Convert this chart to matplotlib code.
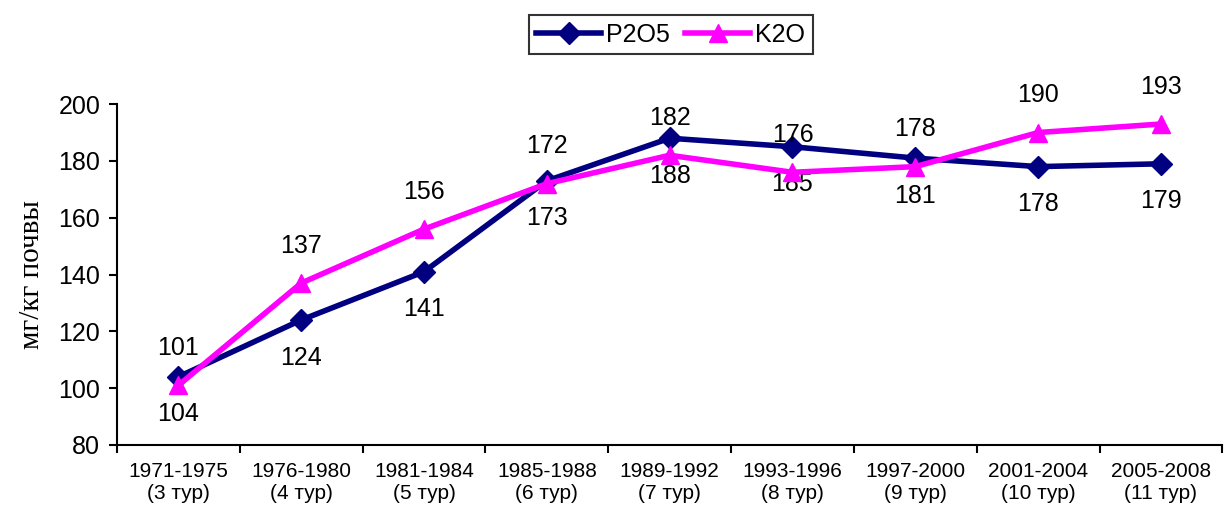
import numpy as np
import matplotlib
matplotlib.use("Agg")
import matplotlib.pyplot as plt

# data
periods = ["1971-1975\n(3 тур)", "1976-1980\n(4 тур)", "1981-1984\n(5 тур)",
           "1985-1988\n(6 тур)", "1989-1992\n(7 тур)", "1993-1996\n(8 тур)",
           "1997-2000\n(9 тур)", "2001-2004\n(10 тур)", "2005-2008\n(11 тур)"]
p2o5 = [104, 124, 141, 173, 188, 185, 181, 178, 179]
k2o = [101, 137, 156, 172, 182, 176, 178, 190, 193]

plt.rcParams['font.family'] = ['Liberation Sans', 'DejaVu Sans']

fig = plt.figure(figsize=(12.26, 5.13), dpi=100)
ax = fig.add_axes([0.0954, 0.1326, 0.9016, 0.6644])

x = np.arange(len(periods))
ax.plot(x, p2o5, color="#000080", lw=4, marker="D", ms=11, label="P2O5", zorder=3)
ax.plot(x, k2o, color="#FF00FF", lw=4, marker="^", ms=13, label="K2O", zorder=4)

# P2O5 labels go under the points, K2O labels over them
for i in range(len(x)):
    ax.annotate(str(p2o5[i]), (x[i], p2o5[i]), xytext=(0, -27), textcoords="offset points",
                ha="center", va="center", fontsize=18)
    ax.annotate(str(k2o[i]), (x[i], k2o[i]), xytext=(0, 27), textcoords="offset points",
                ha="center", va="center", fontsize=18)

ax.set_xlim(-0.5, len(x) - 0.5)
ax.set_ylim(80, 200)
ax.set_yticks(range(80, 201, 20))
ax.tick_params(axis="y", labelsize=18, length=6, width=1.5, direction="out", pad=6)

ax.set_xticks(x)
ax.set_xticklabels(periods, fontsize=15)
ax.tick_params(axis="x", which="major", length=0, pad=12)
ax.set_xticks(np.arange(-0.5, len(x)), minor=True)
ax.tick_params(axis="x", which="minor", length=6, width=1.5, direction="out")

ax.spines["top"].set_visible(False)
ax.spines["right"].set_visible(False)
ax.spines["left"].set_linewidth(1.5)
ax.spines["bottom"].set_linewidth(1.5)

ax.set_ylabel("мг/кг почвы", family="Liberation Serif", fontsize=21, labelpad=10)

leg = fig.legend(loc="center", bbox_to_anchor=(0.547, 0.932), ncol=2, fontsize=18,
                 frameon=True, fancybox=False, edgecolor="black", handlelength=2.6,
                 handletextpad=0.2, columnspacing=0.6, borderpad=0.3)
leg.get_frame().set_linewidth(1.5)

fig.savefig("out.png", dpi=100)
